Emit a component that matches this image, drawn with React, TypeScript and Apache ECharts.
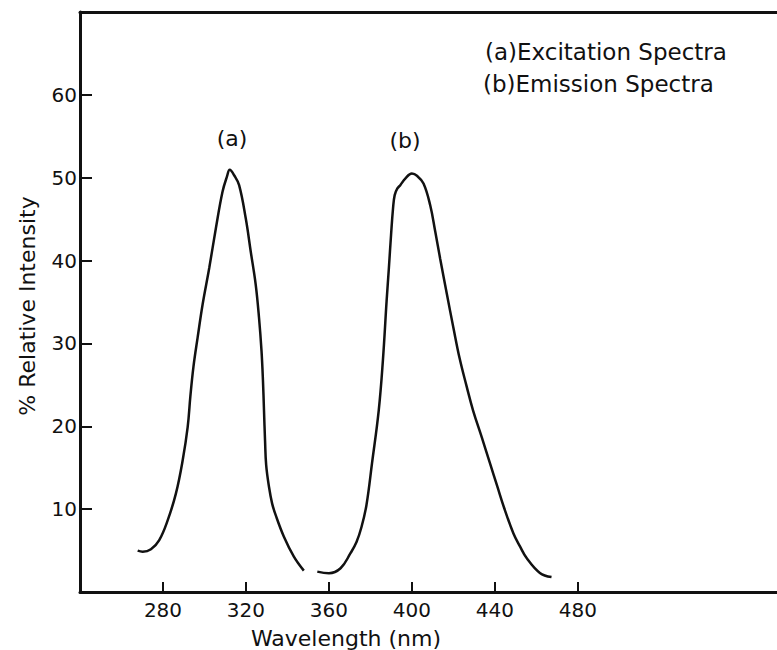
import React, { useEffect, useRef } from "react";
import * as echarts from "echarts";

// Excitation spectrum (a)
const excitationX = [267.8, 270.2, 274.2, 278.2, 282.3, 286.25, 289.5, 291.9, 293.2, 294.7, 296.7, 299.1, 302.3, 305.5, 308.7, 310.8, 312.2, 314.3, 316.7, 319.9, 322.3, 324.7, 326.3, 327.5, 328.2, 328.7, 329.2, 329.75, 331.1, 332.6, 334.3, 338.3, 343.1, 347.9];
const excitationY = [4.99, 4.87, 5.16, 6.27, 8.68, 11.9, 15.9, 19.9, 23.6, 27.2, 30.7, 34.7, 39.1, 43.9, 48.3, 50.1, 50.95, 50.3, 49.1, 45.1, 41.1, 37.1, 33.1, 29.1, 25.5, 21.9, 18.3, 15.3, 12.7, 10.7, 9.3, 6.67, 4.27, 2.58];

// Emission spectrum (b)
const emissionX = [354.4, 360.0, 365.6, 370.4, 373.3, 375.7, 378.1, 380.8, 384.0, 386.0, 387.8, 388.9, 389.95, 390.9, 391.7, 393.0, 394.4, 396.8, 400.0, 402.6, 405.6, 408.8, 411.25, 413.65, 416.9, 420.0, 423.0, 426.2, 429.5, 433.7, 437.7, 441.1, 444.4, 448.9, 452.1, 455.3, 461.7, 467.3];
const emissionY = [2.46, 2.27, 2.87, 4.68, 6.03, 7.84, 10.5, 15.6, 21.9, 27.9, 35.1, 39.1, 43.1, 46.3, 47.9, 48.7, 49.1, 49.9, 50.5, 50.2, 49.3, 46.7, 43.5, 40.2, 35.9, 31.9, 28.2, 25.0, 21.9, 18.65, 15.5, 12.8, 10.2, 7.1, 5.5, 4.1, 2.3, 1.8];

const xTicks = [280, 320, 360, 400, 440, 480];
const yTicks = [10, 20, 30, 40, 50, 60];

const legendLines = ["(a)Excitation Spectra", "(b)Emission Spectra"];
const peakLabels = ["(a)", "(b)"];

const FONT = "DejaVu Sans";
const INK = "#111";

export default function App() {
  const ref = useRef<HTMLDivElement>(null);
  useEffect(() => {
    if (!ref.current) return;
    const chart = echarts.init(ref.current, null, { renderer: "svg" });
    const zip = (xs: number[], ys: number[]) => xs.map((x, i) => [x, ys[i]]);
    chart.setOption({
      animation: false,
      backgroundColor: "#fff",
      textStyle: { fontFamily: FONT },
      grid: { left: 80, right: 0, top: 12, bottom: 58, containLabel: false },
      xAxis: [
        {
          type: "value",
          min: 240,
          max: 576,
          interval: 40,
          axisLine: { show: true, onZero: false, lineStyle: { color: INK, width: 3 } },
          axisTick: { show: true, inside: true, length: 10, customValues: xTicks, lineStyle: { color: INK, width: 2 } },
          axisLabel: { show: true, customValues: xTicks, color: INK, fontSize: 20, fontFamily: FONT, margin: 8 },
          splitLine: { show: false },
        },
        {
          type: "value",
          position: "top",
          min: 240,
          max: 576,
          axisLine: { show: true, onZero: false, lineStyle: { color: INK, width: 3 } },
          axisTick: { show: false },
          axisLabel: { show: false },
          splitLine: { show: false },
        },
      ],
      yAxis: {
        type: "value",
        min: 0,
        max: 70,
        interval: 10,
        axisLine: { show: true, onZero: false, lineStyle: { color: INK, width: 3 } },
        axisTick: { show: true, inside: true, length: 12, customValues: yTicks, lineStyle: { color: INK, width: 2 } },
        axisLabel: { show: true, customValues: yTicks, color: INK, fontSize: 20, fontFamily: FONT, margin: 3 },
        splitLine: { show: false },
      },
      series: [
        {
          type: "line",
          name: "Excitation Spectra",
          data: zip(excitationX, excitationY),
          smooth: 0.4,
          showSymbol: false,
          lineStyle: { color: INK, width: 2.5 },
        },
        {
          type: "line",
          name: "Emission Spectra",
          data: zip(emissionX, emissionY),
          smooth: 0.4,
          showSymbol: false,
          lineStyle: { color: INK, width: 2.5 },
        },
      ],
      graphic: [
        {
          type: "text",
          left: 485,
          top: 40,
          style: { text: legendLines[0], fontSize: 23, fontFamily: FONT, fill: INK },
        },
        {
          type: "text",
          left: 483,
          top: 72,
          style: { text: legendLines[1], fontSize: 23, fontFamily: FONT, fill: INK },
        },
        {
          type: "text",
          x: 232,
          y: 138,
          style: { text: peakLabels[0], fontSize: 22, fontFamily: FONT, fill: INK, align: "center", verticalAlign: "middle" },
        },
        {
          type: "text",
          x: 405,
          y: 140,
          style: { text: peakLabels[1], fontSize: 22, fontFamily: FONT, fill: INK, align: "center", verticalAlign: "middle" },
        },
        {
          type: "text",
          x: 346,
          y: 638,
          style: { text: "Wavelength (nm)", fontSize: 22, fontFamily: FONT, fill: INK, align: "center", verticalAlign: "middle" },
        },
        {
          type: "text",
          x: 27,
          y: 306,
          rotation: Math.PI / 2,
          style: { text: "% Relative Intensity", fontSize: 22, fontFamily: FONT, fill: INK, align: "center", verticalAlign: "middle" },
        },
      ],
    });
    return () => chart.dispose();
  }, []);
  return (
    <div
      ref={ref}
      style={{ position: "fixed", left: 0, top: 0, width: 777, height: 650, background: "#fff" }}
    />
  );
}
